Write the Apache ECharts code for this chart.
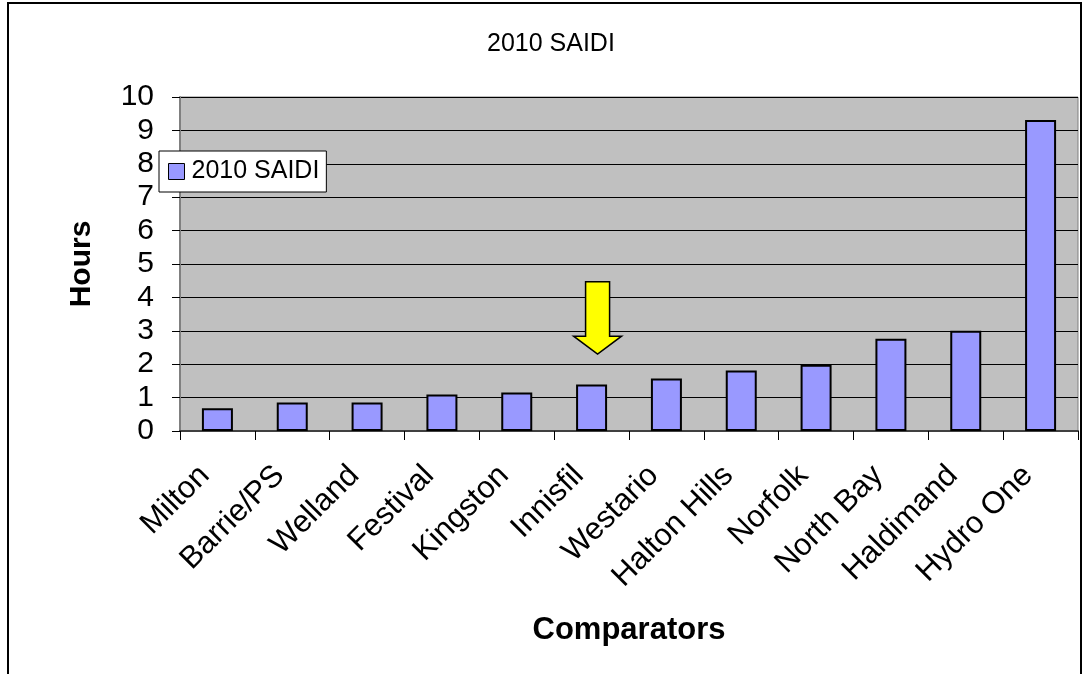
<!DOCTYPE html>
<html>
<head>
<meta charset="utf-8">
<script src="https://cdn.jsdelivr.net/npm/echarts@6/dist/echarts.min.js"></script>
<style>
  html, body { margin: 0; padding: 0; background: #ffffff; }
  #main { width: 1083px; height: 674px; }
</style>
</head>
<body>
<div id="main"></div>
<script>
var categories = ['Milton', 'Barrie/PS', 'Welland', 'Festival', 'Kingston', 'Innisfil',
  'Westario', 'Halton Hills', 'Norfolk', 'North Bay', 'Haldimand', 'Hydro One'];
var saidi2010 = [0.68, 0.85, 0.85, 1.09, 1.15, 1.39, 1.57, 1.81, 1.98, 2.76, 3.0, 9.31];
var highlighted = 'Innisfil';

var chart = echarts.init(document.getElementById('main'), null, { renderer: 'canvas' });
var font = 'Liberation Sans, Arial, sans-serif';

var frame = {
  type: 'rect',
  shape: { x: 8, y: 3, width: 1073, height: 720 },
  style: { fill: 'none', stroke: '#000', lineWidth: 2 },
  silent: true,
  z: 100
};

var option = {
  backgroundColor: '#ffffff',
  animation: false,
  title: {
    text: '2010 SAIDI',
    left: 482,
    top: 27,
    textStyle: { fontFamily: font, fontSize: 25, fontWeight: 'normal', color: '#000' }
  },
  legend: {
    left: 159,
    top: 151,
    orient: 'vertical',
    backgroundColor: '#ffffff',
    borderColor: '#000',
    borderWidth: 1,
    borderRadius: 0,
    padding: [8, 7, 8, 9],
    itemWidth: 16,
    itemHeight: 16,
    itemGap: 0,
    icon: 'rect',
    textStyle: { fontFamily: font, fontSize: 25, color: '#000', padding: [0, 0, 0, 2] },
    data: [{ name: '2010 SAIDI', itemStyle: { borderColor: '#000', borderWidth: 1 } }]
  },
  grid: {
    left: 180,
    right: 5,
    top: 97,
    bottom: 243,
    show: true,
    backgroundColor: '#C0C0C0',
    borderColor: '#808080',
    borderWidth: 1
  },
  xAxis: {
    type: 'category',
    data: categories,
    name: 'Comparators',
    nameLocation: 'middle',
    nameGap: 184,
    nameTextStyle: { fontFamily: font, fontSize: 31, fontWeight: 'bold', color: '#000' },
    axisLine: { lineStyle: { color: '#404040', width: 2 } },
    axisTick: { show: true, length: 9, lineStyle: { color: '#000' } },
    axisLabel: {
      interval: 0,
      rotate: 45,
      margin: 27,
      padding: [0, 18, 0, 0],
      fontFamily: font,
      fontSize: 31,
      color: '#000'
    },
    splitLine: { show: false }
  },
  yAxis: {
    type: 'value',
    min: 0,
    max: 10,
    interval: 1,
    name: 'Hours',
    nameLocation: 'middle',
    nameGap: 83,
    nameTextStyle: { fontFamily: font, fontSize: 30, fontWeight: 'bold', color: '#000' },
    axisLine: { show: true, lineStyle: { color: '#808080', width: 2 } },
    axisTick: { show: true, length: 8, lineStyle: { color: '#000' } },
    axisLabel: { margin: 26, fontFamily: font, fontSize: 30, color: '#000' },
    splitLine: { show: true, lineStyle: { color: '#000', width: 1 } }
  },
  series: [{
    name: '2010 SAIDI',
    type: 'bar',
    data: saidi2010,
    barWidth: 31,
    itemStyle: { color: '#9999FF', borderColor: '#000', borderWidth: 2 }
  }],
  graphic: [frame]
};

chart.setOption(option);

// yellow arrow pointing at the highlighted comparator
var idx = categories.indexOf(highlighted);
var arrowTop = chart.convertToPixel({ gridIndex: 0 }, [idx, 4.47]);
var arrowTip = chart.convertToPixel({ gridIndex: 0 }, [idx, 2.3]);
var headY = chart.convertToPixel({ gridIndex: 0 }, [idx, 2.84])[1];
var cx = arrowTop[0] + 6;
chart.setOption({
  graphic: [frame, {
    type: 'polygon',
    shape: {
      points: [
        [cx - 12, arrowTop[1]], [cx + 12, arrowTop[1]], [cx + 12, headY], [cx + 24, headY],
        [cx, arrowTip[1]], [cx - 24, headY], [cx - 12, headY]
      ]
    },
    style: { fill: '#FFFF00', stroke: '#000', lineWidth: 1.5 },
    z: 50
  }]
});
</script>
</body>
</html>
